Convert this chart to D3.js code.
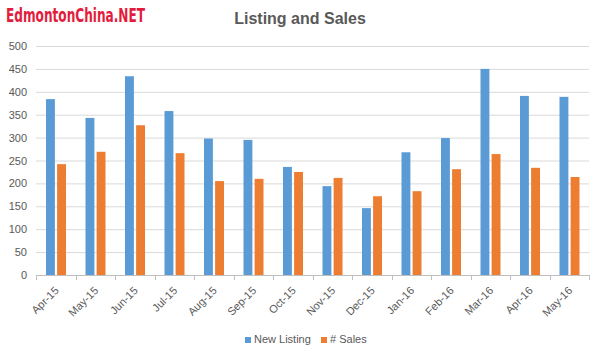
<!DOCTYPE html>
<html><head><meta charset="utf-8">
<script src="https://cdn.jsdelivr.net/npm/d3@7"></script>
<style>body{margin:0;background:#fff}svg{display:block}</style>
</head><body><svg id="c" width="601" height="358"></svg>
<script>
const categories = ["Apr-15","May-15","Jun-15","Jul-15","Aug-15","Sep-15","Oct-15","Nov-15","Dec-15","Jan-16","Feb-16","Mar-16","Apr-16","May-16"];
const newListing = [384,343,434,358,298,295,236,194,146,268,299,450,391,389];
const sales = [242,269,327,266,205,210,225,212,172,183,231,264,234,214];
const seriesNames = ["New Listing","# Sales"];
const yTicks = [0,50,100,150,200,250,300,350,400,450,500];

const svg = d3.select("#c");
const font = "'Liberation Sans', Arial, sans-serif";
const grey = "#595959";
const colors = ["#5b9bd5","#ed7d31"];
const L = 36, R = 589, T = 46, B = 275;

const x = d3.scaleBand().domain(categories).range([L,R]).paddingInner(0).paddingOuter(0);
const x1 = d3.scaleBand().domain(seriesNames).range([10, x.bandwidth()-9.5]).paddingInner(0.2);
const y = d3.scaleLinear().domain([0,500]).range([B,T]);

// gridlines
svg.append("g").selectAll("line").data(yTicks.filter(d=>d>0)).join("line")
  .attr("x1",L).attr("x2",R).attr("y1",d=>y(d)+0.5).attr("y2",d=>y(d)+0.5)
  .attr("stroke","#d9d9d9").attr("stroke-width",1);

// y axis labels
const yAxis = svg.append("g").attr("transform",`translate(${L},0)`)
  .call(d3.axisLeft(y).tickValues(yTicks).tickSize(0).tickPadding(9));
yAxis.select(".domain").remove();
yAxis.selectAll("text").attr("font-family",font).attr("font-size",11).attr("fill",grey);

// bars
const data = categories.map((c,i)=>({c, v:[newListing[i], sales[i]]}));
const g = svg.append("g");
data.forEach(d=>{
  seriesNames.forEach((s,j)=>{
    g.append("rect").attr("x",x(d.c)+x1(s)).attr("width",x1.bandwidth())
      .attr("y",y(d.v[j])).attr("height",B-y(d.v[j])).attr("fill",colors[j]);
  });
});

// x axis
const xAxis = svg.append("g").attr("transform",`translate(0,${B+0.5})`)
  .call(d3.axisBottom(x).tickSize(0).tickPadding(0));
xAxis.select(".domain").attr("stroke","#bfbfbf").attr("d",`M${L},0H${R}`);
svg.append("g").selectAll("line").data(d3.range(categories.length+1)).join("line")
  .attr("x1",i=>Math.round(L+i*x.bandwidth())+0.5).attr("x2",i=>Math.round(L+i*x.bandwidth())+0.5)
  .attr("y1",B).attr("y2",B+5).attr("stroke","#bfbfbf");
xAxis.selectAll("text").attr("font-family",font).attr("font-size",11).attr("fill",grey)
  .attr("text-anchor","end").attr("dy","0.35em")
  .attr("transform","translate(1,13) rotate(-45)");

// title
svg.append("text").attr("x",300).attr("y",24).attr("text-anchor","middle")
  .attr("font-family",font).attr("font-size",16).attr("font-weight","bold").attr("fill",grey)
  .text("Listing and Sales");

// logo
svg.append("text").attr("x",6).attr("y",22)
  .attr("font-family","'Liberation Sans Narrow','DejaVu Sans Condensed',sans-serif").attr("font-size",19).attr("font-weight","bold")
  .attr("textLength",139).attr("lengthAdjust","spacingAndGlyphs")
  .attr("fill","#e31c3d").text("EdmontonChina.NET");

// legend
const leg = svg.append("g");
const legX = [245, 321];
seriesNames.forEach((s,j)=>{
  leg.append("rect").attr("x",legX[j]).attr("y",337).attr("width",6).attr("height",6).attr("fill",colors[j]);
  leg.append("text").attr("x",legX[j]+9).attr("y",343).attr("font-family",font).attr("font-size",11)
    .attr("fill",grey).text(s);
});
</script></body></html>
